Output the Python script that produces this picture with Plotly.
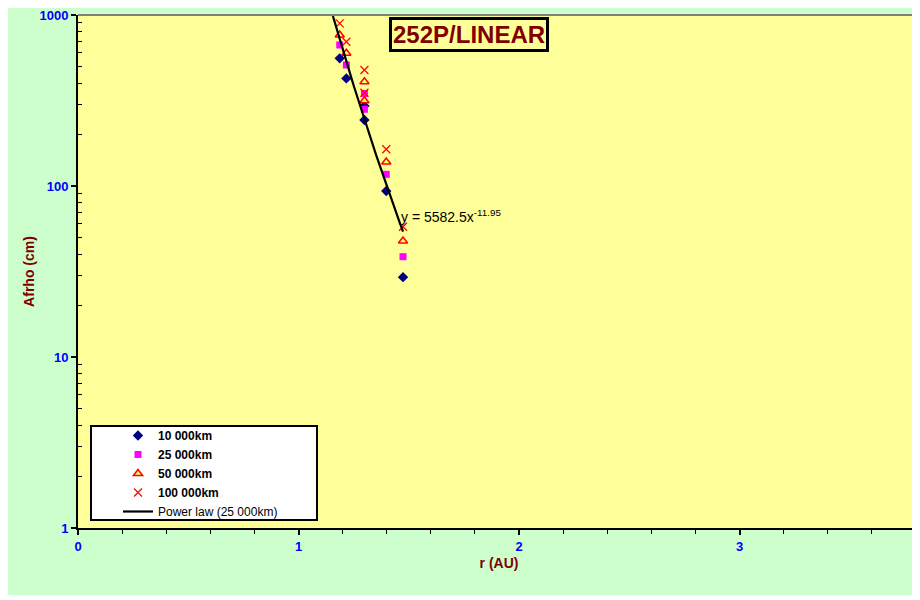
import numpy as np
import plotly.graph_objects as go

# ---- data ----
r_au = [1.187, 1.217, 1.299, 1.299, 1.398, 1.474]
afrho_10k = [558, 426, 294, 243, 93.5, 29.3]
afrho_25k = [668, 510, 348, 281, 117, 38.6]
afrho_50k = [764, 597, 407, 315, 138, 47.7]
afrho_100k = [894, 698, 477, 351, 164, 57.8]

# power-law fit shown on the chart: y = A * r^B (25 000 km)
fit_A = 5582.5
fit_B = -11.95
fit_r_start = 1.156
fit_r_end = 1.474

x_ticks = [0, 1, 2, 3]
y_ticks = [1, 10, 100, 1000]

# page offset of the plotly div (body margin)
OFF = 8
W, H = 920 - OFF, 600 - OFF
# plot area in window pixels: left 78, right 920, top 15, bottom 528
PL, PR, PT, PB = 78, 920, 15, 528
ML, MR, MT, MB = PL - OFF, 920 - PR, PT - OFF, 600 - PB
PW, PH = PR - PL, PB - PT


def px(x):
    return (x - PL) / PW


def py(y):
    return (PB - y) / PH


fit_r = np.linspace(fit_r_start, fit_r_end, 60)
fit_y = fit_A * fit_r ** fit_B

fig = go.Figure()

fig.add_trace(go.Scatter(
    x=r_au, y=afrho_10k, mode="markers", name="<b>10 000km</b>",
    marker=dict(symbol="diamond", size=8, color="#000080",
                line=dict(width=0))))
fig.add_trace(go.Scatter(
    x=r_au, y=afrho_25k, mode="markers", name="<b>25 000km</b>",
    marker=dict(symbol="square", size=7, color="#FF00FF",
                line=dict(width=0))))
fig.add_trace(go.Scatter(
    x=r_au, y=afrho_50k, mode="markers", name="<b>50 000km</b>",
    marker=dict(symbol="triangle-up", size=8, color="#FFFF66",
                line=dict(width=1.5, color="#FF0000"))))
fig.add_trace(go.Scatter(
    x=r_au, y=afrho_100k, mode="markers", name="<b>100 000km</b>",
    marker=dict(symbol="x-thin-open", size=8, color="#FF0000",
                line=dict(width=1.2, color="#FF0000"))))
fig.add_trace(go.Scatter(
    x=fit_r, y=fit_y, mode="lines", name="Power law (25 000km)",
    line=dict(color="black", width=2.2)))

axis_font = dict(family="Arial, Liberation Sans", size=13, color="#0000FF",
                 weight="bold")
title_font = dict(family="Arial, Liberation Sans", size=14, color="#800000",
                  weight="bold")

fig.update_layout(
    width=W, height=H,
    margin=dict(l=ML, r=MR, t=MT, b=MB, autoexpand=False),
    paper_bgcolor="#CCFFCC",
    plot_bgcolor="#FFFF99",
    font=dict(family="Arial, Liberation Sans", size=12, color="black"),
    showlegend=True,
    legend=dict(
        x=px(118), y=py(421), xanchor="left", yanchor="top",
        bgcolor="rgba(0,0,0,0)", borderwidth=0,
        font=dict(family="Arial, Liberation Sans", size=12, color="black"),
        tracegroupgap=0,
    ),
    xaxis=dict(
        range=[0, (PR - PL) / 220.5], tickvals=x_ticks, ticks="outside",
        ticklen=5, tickwidth=1.5, tickcolor="black",
        showline=True, linecolor="black", linewidth=2,
        showgrid=False, zeroline=False, tickfont=axis_font,
        minor=dict(dtick=0.2, ticks="outside", ticklen=4, tickcolor="black",
                   tickwidth=1, showgrid=False),
        title=dict(text="r (AU)", font=title_font, standoff=6),
        automargin=False,
    ),
    yaxis=dict(
        type="log", range=[-0.00005, 3.00005], tickvals=y_ticks,
        ticktext=[str(v) for v in y_ticks],
        ticks="outside", ticklen=5, tickwidth=1.5, tickcolor="black",
        showline=True, linecolor="black", linewidth=2,
        showgrid=False, zeroline=False, tickfont=axis_font,
        ticklabeloverflow="allow",
        minor=dict(ticks="inside", ticklen=4, tickcolor="black", tickwidth=1,
                   showgrid=False,
                   tickvals=[m * d for d in [1, 10, 100] for m in range(2, 10)]),
        title=dict(text="Afrho (cm)", font=title_font, standoff=2),
        automargin=False,
    ),
)

# white strip at the bottom of the page
fig.add_shape(type="rect", xref="paper", yref="paper",
              x0=px(0), x1=px(920), y0=py(600), y1=py(595),
              fillcolor="white", line=dict(width=0), layer="above")

# grey top border of the plot area
fig.add_shape(type="line", xref="paper", yref="paper",
              x0=0, x1=1, y0=1, y1=1,
              line=dict(color="#808080", width=2), layer="above")

# legend box
fig.add_shape(type="rect", xref="paper", yref="paper",
              x0=px(91), x1=px(317), y0=py(520), y1=py(426),
              fillcolor="white", line=dict(color="black", width=2),
              layer="above")

# title box
fig.add_annotation(
    x=px(469), y=py(34), xref="paper", yref="paper",
    text="<b>252P/LINEAR</b>", showarrow=False,
    font=dict(family="Arial, Liberation Sans", size=24, color="#800000"),
    bgcolor="#FFFF99", bordercolor="black", borderwidth=3, borderpad=1,
    xanchor="center", yanchor="middle")

# fit equation
fig.add_annotation(
    x=px(399), y=py(216), xref="paper", yref="paper",
    text="y = 5582.5x<sup>-11.95</sup>", showarrow=False,
    font=dict(family="Arial, Liberation Sans", size=14, color="black"),
    xanchor="left", yanchor="middle")

fig.write_html("out.html")
